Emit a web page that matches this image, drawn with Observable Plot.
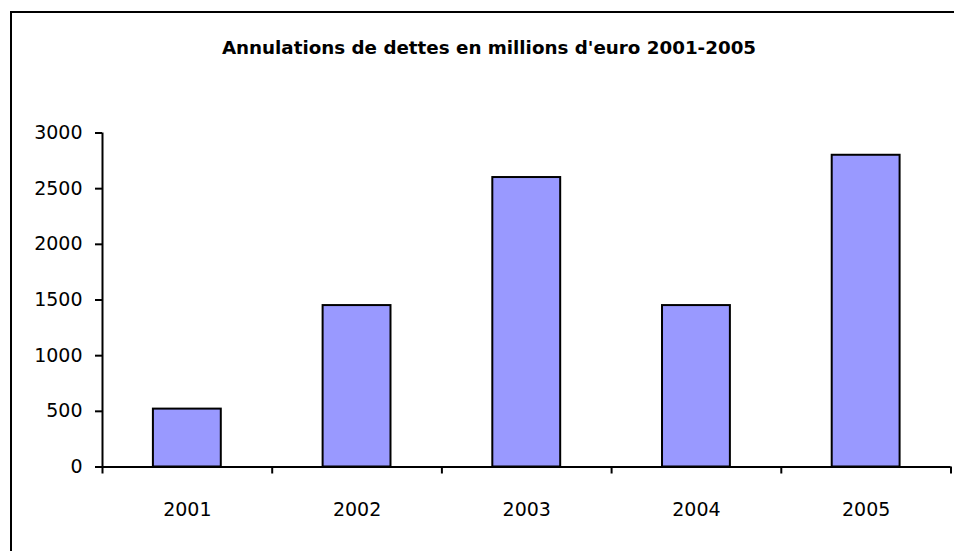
<!DOCTYPE html>
<html>
<head>
<meta charset="utf-8">
<script src="https://cdn.jsdelivr.net/npm/d3@7"></script>
<script src="https://cdn.jsdelivr.net/npm/@observablehq/plot@0.6"></script>
<style>
  html, body { margin: 0; padding: 0; background: #fff; overflow: hidden; width: 954px; height: 551px; }
  #wrap { position: relative; width: 954px; height: 551px; overflow: hidden; background: #fff; font-family: "DejaVu Sans", Verdana, sans-serif; }
  #frame { position: absolute; left: 10px; top: 11px; width: 944px; height: 540px; border-left: 2px solid #000; border-top: 2px solid #000; box-sizing: border-box; pointer-events: none; }
  #title { width: 954px; height: 100px; box-sizing: border-box; padding-top: 38px; padding-left: 24px; line-height: 20px; text-align: center; font-weight: bold; font-size: 18.3px; color: #000; margin: 0; white-space: nowrap; }
  #chart { width: 954px; height: 451px; overflow: hidden; }
  #chart svg { display: block; }
</style>
</head>
<body>
<div id="wrap">
  <div id="title">Annulations de dettes en millions d'euro 2001-2005</div>
  <div id="chart"></div>
  <div id="frame"></div>
</div>
<script>
const years = ["2001", "2002", "2003", "2004", "2005"];
const values = [520, 1450, 2600, 1450, 2800];
const yTicks = [0, 500, 1000, 1500, 2000, 2500, 3000];
const categoryBounds = [0, 1, 2, 3, 4, 5];
const labelPositions = [0.5, 1.5, 2.5, 3.5, 4.5];

const data = years.map((year, i) => ({ year, value: values[i], i }));

const chart = Plot.plot({
  width: 954,
  height: 451,
  marginLeft: 102,
  marginRight: 3.5,
  marginTop: 32.5,
  marginBottom: 84.5,
  style: { fontFamily: '"DejaVu Sans", Verdana, sans-serif', fontSize: "19px", color: "#000", background: "transparent" },
  x: { domain: [0, 5], axis: null },
  y: { domain: [0, 3000], axis: null },
  marks: [
    Plot.rectY(data, { x1: d => d.i + 0.3, x2: d => d.i + 0.7, y: "value", fill: "#9999ff", stroke: "#000", strokeWidth: 2 }),
    Plot.axisY(yTicks, { label: null, tickSize: 7, tickPadding: 13, strokeWidth: 2, stroke: "#000", fill: "#000", fontSize: 19, tickFormat: d => String(d) }),
    Plot.ruleX([0], { y1: 0, y2: 3000, stroke: "#000", strokeWidth: 2 }),
    Plot.ruleY([0], { stroke: "#000", strokeWidth: 2 }),
    Plot.axisX(categoryBounds, { label: null, tickSize: 7, strokeWidth: 2, stroke: "#000", tickFormat: () => "" }),
    Plot.axisX(labelPositions, { label: null, tickSize: 0, tickPadding: 35, fill: "#000", fontSize: 19, tickFormat: d => years[Math.floor(d)] })
  ]
});
document.getElementById("chart").appendChild(chart);
</script>
</body>
</html>
